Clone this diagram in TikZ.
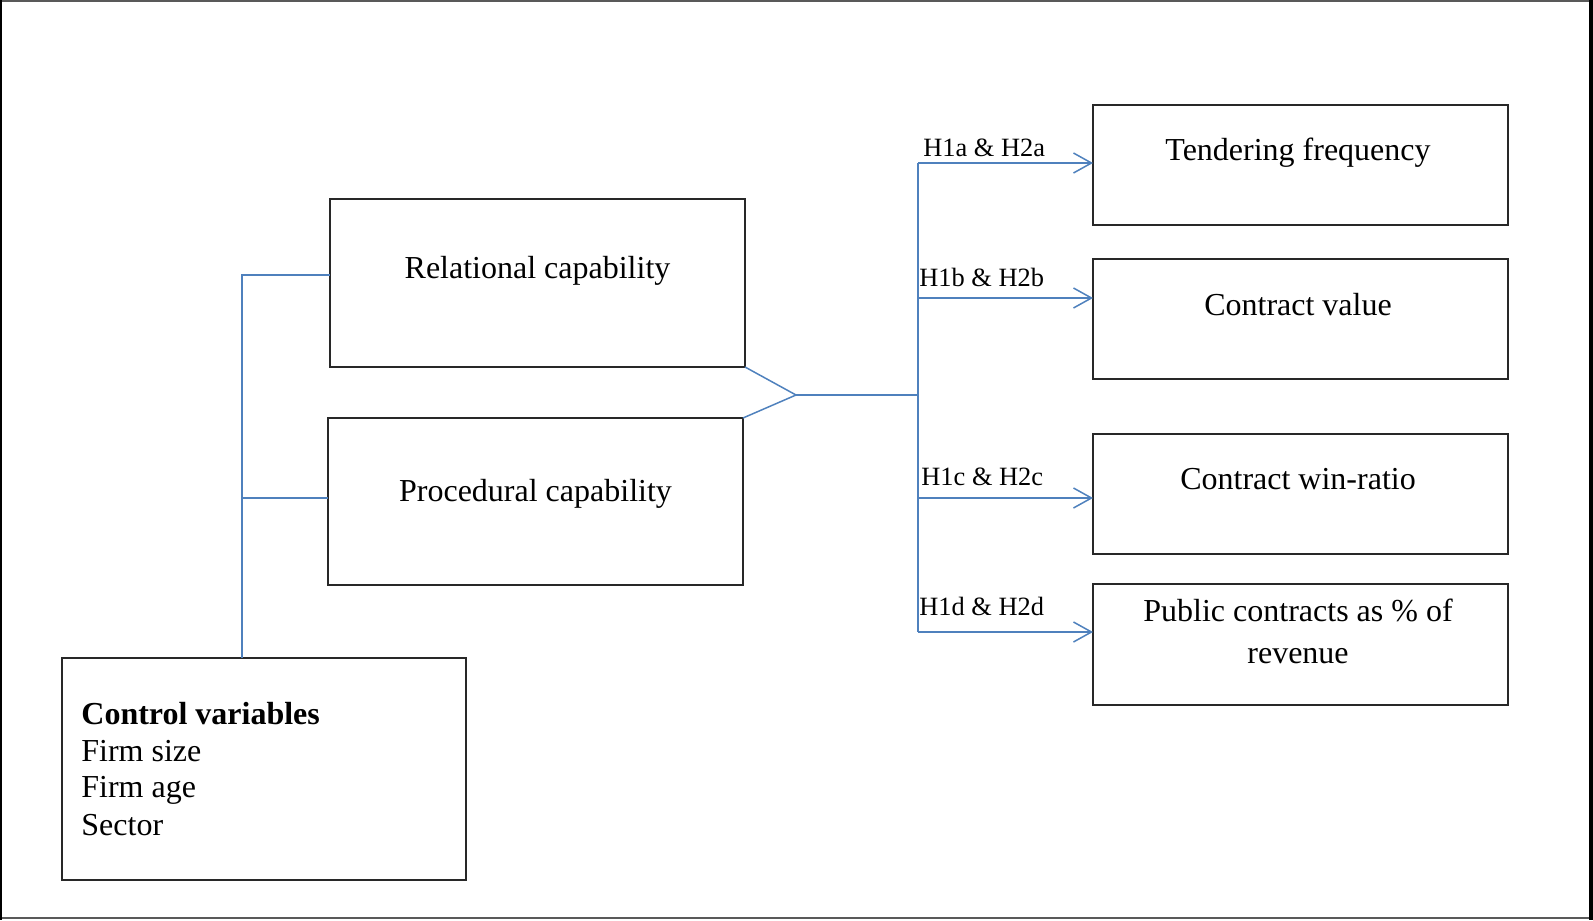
\documentclass[tikz,border=0pt]{standalone}
\usepackage{fontspec}
\setmainfont{Liberation Serif}
\usetikzlibrary{arrows.meta}
\definecolor{lnblue}{RGB}{79,129,189}
\definecolor{frm}{RGB}{40,40,40}
\begin{document}
\begin{tikzpicture}[x=0.5pt,y=-0.5pt,
  box/.style={draw=frm,line width=0.9pt,inner sep=0pt,outer sep=0pt},
  txt/.style={font=\fontsize{16}{18.3}\selectfont,inner sep=0pt,anchor=base},
  lbl/.style={font=\fontsize{13.2}{14}\selectfont,inner sep=0pt,anchor=base west},
  conn/.style={draw=lnblue,line width=0.75pt},
  arr/.style={conn,-{Straight Barb[length=9pt,width=10pt,line width=0.75pt]}}]
\useasboundingbox (0,0) rectangle (1593,920);
\draw[draw=gray!70!black,line width=1pt] (1,1) rectangle (1591,918);
\draw[line width=1.4pt] (1,0) -- (1,920);
\draw[line width=2pt] (1591,0) -- (1591,920);
% boxes
\node[box,minimum width=207.5pt,minimum height=84pt] (rel) at (537.5,283) {};
\node[box,minimum width=207.5pt,minimum height=83.5pt] (proc) at (535.5,501.5) {};
\node[box,minimum width=202pt,minimum height=111pt] (ctrl) at (264,769) {};
\node[box,minimum width=207.5pt,minimum height=60pt] (tf) at (1300.5,165) {};
\node[box,minimum width=207.5pt,minimum height=60pt] (cv) at (1300.5,319) {};
\node[box,minimum width=207.5pt,minimum height=60pt] (wr) at (1300.5,494) {};
\node[box,minimum width=207.5pt,minimum height=60.5pt] (pc) at (1300.5,644.5) {};
% texts
\node[txt] (relt) at (537.5,278) {Relational capability};
\node[txt] (proct) at (535.5,501) {Procedural capability};
\node[txt] (tft) at (1298,160) {Tendering frequency};
\node[txt] (cvt) at (1298,315) {Contract value};
\node[txt] (wrt) at (1298,489) {Contract win-ratio};
\node[txt] (pct1) at (1298,621) {Public contracts as \% of};
\node[txt] (pct2) at (1298,663) {revenue};
\node[txt,anchor=base west] (c1) at (81,724) {\bfseries Control variables};
\node[txt,anchor=base west] (c2) at (81,761) {Firm size};
\node[txt,anchor=base west] (c3) at (81,797) {Firm age};
\node[txt,anchor=base west] (c4) at (81,835) {Sector};
% left connectors
\coordinate (cL) at (242,275);
\coordinate (cM) at (242,498);
\draw[conn] (ctrl.north -| cL) -- (cL) -- (cL -| rel.west);
\draw[conn] (cM) -- (cM -| proc.west);
% merge
\coordinate (m) at (796,395);
\coordinate (hub) at (918,395);
\draw[conn] (rel.south east) -- (m) -- (proc.north east);
\draw[conn] (m) -- (hub);
\coordinate (t1) at (918,163);
\coordinate (t2) at (918,298);
\coordinate (t3) at (918,498);
\coordinate (t4) at (918,632);
\draw[conn] (t1) -- (t4);
\draw[arr] (t1) -- (t1 -| tf.west);
\draw[arr] (t2) -- (t2 -| cv.west);
\draw[arr] (t3) -- (t3 -| wr.west);
\draw[arr] (t4) -- (t4 -| pc.west);
% labels
\node[lbl] (l1) at (923,156) {H1a \& H2a};
\node[lbl] (l2) at (919,286) {H1b \& H2b};
\node[lbl] (l3) at (921,485) {H1c \& H2c};
\node[lbl] (l4) at (919,615) {H1d \& H2d};
\end{tikzpicture}
\end{document}
